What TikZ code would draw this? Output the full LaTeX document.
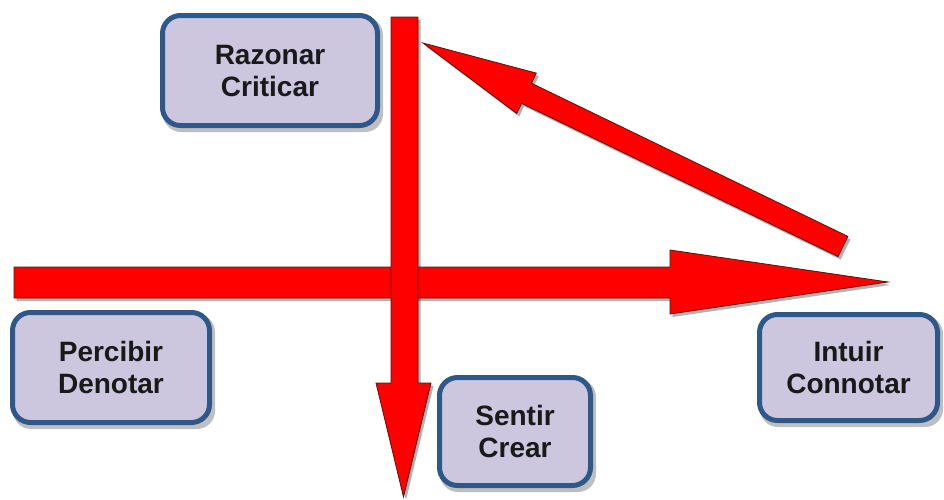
\documentclass[tikz,border=0pt]{standalone}
\usepackage{fontspec}
\setmainfont{Liberation Sans}
\definecolor{boxfill}{RGB}{204,198,222}
\definecolor{boxline}{RGB}{46,88,138}
\definecolor{arrred}{RGB}{255,0,0}
\definecolor{arredge}{RGB}{90,20,10}
\definecolor{txt}{RGB}{25,25,25}
\begin{document}
\begin{tikzpicture}[x=1pt,y=-1pt,
  termbox/.style={draw=boxline, line width=5pt, fill=boxfill, rounded corners=18pt,
    align=center, text=txt, font=\fontsize{28}{32}\selectfont\bfseries, inner sep=0pt},
  boxshadow/.style={fill=black, opacity=0.25, rounded corners=18pt},
  blockarrow/.style={fill=arrred, draw=arredge, line width=0.8pt, line join=miter},
  arrshadow/.style={fill=black, opacity=0.3}]
\useasboundingbox (0,0) rectangle (944,499);
\fill[white] (0,0) rectangle (944,499);

% box shadows
\fill[boxshadow] (163,17) rectangle (383,132);
\fill[boxshadow] (13,314) rectangle (215,429);
\fill[boxshadow] (440,379) rectangle (596,492);
\fill[boxshadow] (760,316) rectangle (943,427);

% boxes
\node[termbox, minimum width=215pt, minimum height=110pt] (raz) at (270,70.5) {Razonar\\Criticar};
\node[termbox, minimum width=197pt, minimum height=110pt] (per) at (111,367.5) {Percibir\\Denotar};
\node[termbox, minimum width=151pt, minimum height=108pt] (sen) at (515,431.5) {Sentir\\Crear};
\node[termbox, minimum width=178pt, minimum height=106pt] (int) at (848.5,367.5) {Intuir\\Connotar};

% arrow shadows
\begin{scope}[shift={(2.5,3)}]
\fill[arrshadow] (531.4,83.2) -- (847.9,236.4) -- (838.1,256.6) -- (521.6,103.4) -- (516.7,113.5) -- (423,43) -- (536.3,73.1) -- cycle;
\fill[arrshadow] (14,267) -- (670,267) -- (670,250) -- (888,282) -- (670,314) -- (670,298) -- (14,298) -- cycle;
\fill[arrshadow] (391,17) -- (418,17) -- (418,383) -- (431,383) -- (403.5,497) -- (376,383) -- (391,383) -- cycle;
\end{scope}

% diagonal arrow (Intuir -> Razonar)
\coordinate (dtip) at (423,43);
\coordinate (dtail) at (843,246.5);
\draw[blockarrow] (531.4,83.2) -- (847.9,236.4) -- (838.1,256.6) -- (521.6,103.4) -- (516.7,113.5) -- (dtip) -- (536.3,73.1) -- cycle;

% horizontal arrow (Percibir -> Intuir)
\coordinate (htail) at (14,282.5);
\coordinate (htip) at (888,282);
\draw[blockarrow] (14,267) -- (670,267) -- (670,250) -- (htip) -- (670,314) -- (670,298) -- (14,298) -- cycle;

% vertical arrow (Razonar -> Sentir)
\coordinate (vtail) at (404.5,17);
\coordinate (vtip) at (403.5,497);
\draw[blockarrow] (391,17) -- (418,17) -- (418,383) -- (431,383) -- (vtip) -- (376,383) -- (391,383) -- cycle;
\end{tikzpicture}
\end{document}
